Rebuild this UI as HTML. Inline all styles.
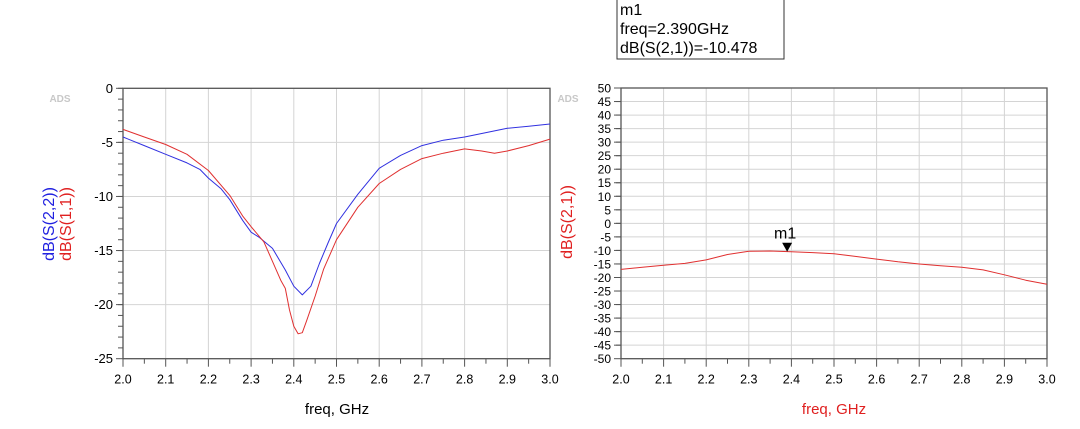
<!DOCTYPE html>
<html><head><meta charset="utf-8"><style>
html,body{margin:0;padding:0;background:#fff;}
svg{display:block;font-family:"Liberation Sans",Arial,sans-serif;}
</style></head><body>
<svg id="s" width="1080" height="429" viewBox="0 0 1080 429" xmlns="http://www.w3.org/2000/svg">
<rect width="1080" height="429" fill="#fff"/>
<g id="g"></g>
<text x="60" y="102" font-size="10" font-weight="bold" fill="#c8c8c8" text-anchor="middle">ADS</text>
<text x="568" y="102" font-size="10" font-weight="bold" fill="#c8c8c8" text-anchor="middle">ADS</text>
<text transform="translate(54,224) rotate(-90)" font-size="16" fill="#2020e0" text-anchor="middle">dB(S(2,2))</text>
<text transform="translate(71,224) rotate(-90)" font-size="16" fill="#e02020" text-anchor="middle">dB(S(1,1))</text>
<text transform="translate(572,222) rotate(-90)" font-size="16" fill="#e02020" text-anchor="middle">dB(S(2,1))</text>
<text x="337" y="414" font-size="15" fill="#000" text-anchor="middle">freq, GHz</text>
<text x="834" y="414" font-size="15" fill="#e02020" text-anchor="middle">freq, GHz</text>
<rect x="617" y="-1" width="167" height="60" fill="#fff" stroke="#333" stroke-width="1"/>
<text x="620" y="15" font-size="16" fill="#000">m1</text>
<text x="620" y="34" font-size="16" fill="#000">freq=2.390GHz</text>
<text x="620" y="53" font-size="16" fill="#000">dB(S(2,1))=-10.478</text>
</svg>
<script>
var g=document.getElementById('g'),h='';
function L(x1,y1,x2,y2,c,w){h+='<line x1="'+x1+'" y1="'+y1+'" x2="'+x2+'" y2="'+y2+'" stroke="'+c+'" stroke-width="'+(w||1)+'"/>';}
function T(x,y,t,a,s,c){h+='<text x="'+x+'" y="'+y+'" font-size="'+(s||12)+'" text-anchor="'+a+'" fill="'+(c||'#000')+'">'+t+'</text>';}
function plot(X0,X1,Y0,Y1,ymax,ymin,ystep,fs,minor){
 var fx=function(f){return X0+(f-2)*(X1-X0);},fy=function(d){return Y0+(ymax-d)/(ymax-ymin)*(Y1-Y0);};
 for(var i=0;i<=10;i++){var x=fx(2+i/10);if(i>0&&i<10)L(x,Y0,x,Y1,'#d4d4d4');L(x,Y1,x,Y1+8,'#555');T(x,Y1+25,(2+i/10).toFixed(1),'middle',12.5);}
 for(var i=0;i<10;i++){var x=fx(2.05+i/10);L(x,Y1,x,Y1+5,'#555');}
 for(var d=ymax;d>=ymin;d-=ystep){var y=fy(d);if(d!=ymax&&d!=ymin)L(X0,y,X1,y,'#d4d4d4');L(X0-7,y,X0,y,'#555');T(X0-10,y+4.5,d,'end',fs);}
 for(var d=ymax;d>ymin;d-=minor){var y=fy(d);L(X0-5,y,X0,y,'#555');}
 h+='<rect x="'+X0+'" y="'+Y0+'" width="'+(X1-X0)+'" height="'+(Y1-Y0)+'" fill="none" stroke="#555" stroke-width="1.3"/>';
 return [fx,fy];
}
function curve(m,pts,c){var s='';for(var i=0;i<pts.length;i+=2)s+=(i?'L':'M')+m[0](pts[i]).toFixed(1)+','+m[1](pts[i+1]).toFixed(1);h+='<path d="'+s+'" fill="none" stroke="'+c+'" stroke-width="1" stroke-linejoin="round"/>';}
var a=plot(123,550,88.3,358.7,0,-25,5,13,1);
curve(a,[2.0,-4.5,2.05,-5.3,2.1,-6.1,2.15,-6.9,2.18,-7.5,2.2,-8.3,2.23,-9.3,2.25,-10.3,2.28,-12.2,2.3,-13.3,2.32,-13.8,2.35,-14.8,2.38,-16.8,2.4,-18.3,2.42,-19.1,2.44,-18.3,2.46,-16.2,2.48,-14.3,2.5,-12.5,2.55,-9.8,2.6,-7.4,2.65,-6.2,2.7,-5.3,2.75,-4.8,2.8,-4.5,2.85,-4.1,2.9,-3.7,2.95,-3.5,3.0,-3.3],'#3030e0');
curve(a,[2.0,-3.8,2.05,-4.5,2.1,-5.2,2.15,-6.1,2.2,-7.6,2.25,-9.9,2.28,-11.8,2.3,-12.8,2.33,-14.2,2.35,-16.0,2.37,-17.8,2.38,-18.5,2.39,-20.5,2.4,-22.0,2.41,-22.7,2.42,-22.6,2.43,-21.5,2.45,-19.2,2.47,-16.7,2.5,-14.0,2.55,-11.0,2.6,-8.8,2.65,-7.5,2.7,-6.5,2.75,-6.0,2.8,-5.6,2.84,-5.8,2.87,-6.0,2.9,-5.8,2.95,-5.3,3.0,-4.7],'#e03030');
var b=plot(621,1047,88,358.7,50,-50,5,12,5);
curve(b,[2.0,-17,2.05,-16.2,2.1,-15.5,2.15,-14.8,2.2,-13.5,2.25,-11.5,2.3,-10.3,2.35,-10.2,2.4,-10.5,2.45,-10.8,2.5,-11.2,2.55,-12.2,2.6,-13.2,2.65,-14.2,2.7,-15,2.75,-15.7,2.8,-16.2,2.85,-17.2,2.9,-19,2.95,-21,3.0,-22.5],'#e03030');
var mx=b[0](2.39),my=b[1](-10.478);
h+='<path d="M'+(mx-5)+','+(my-9)+'L'+(mx+5)+','+(my-9)+'L'+mx+','+my+'Z" fill="#000"/>';
T(mx-2,my-13,'m1','middle',16);
g.innerHTML=h;
</script>
</body></html>
